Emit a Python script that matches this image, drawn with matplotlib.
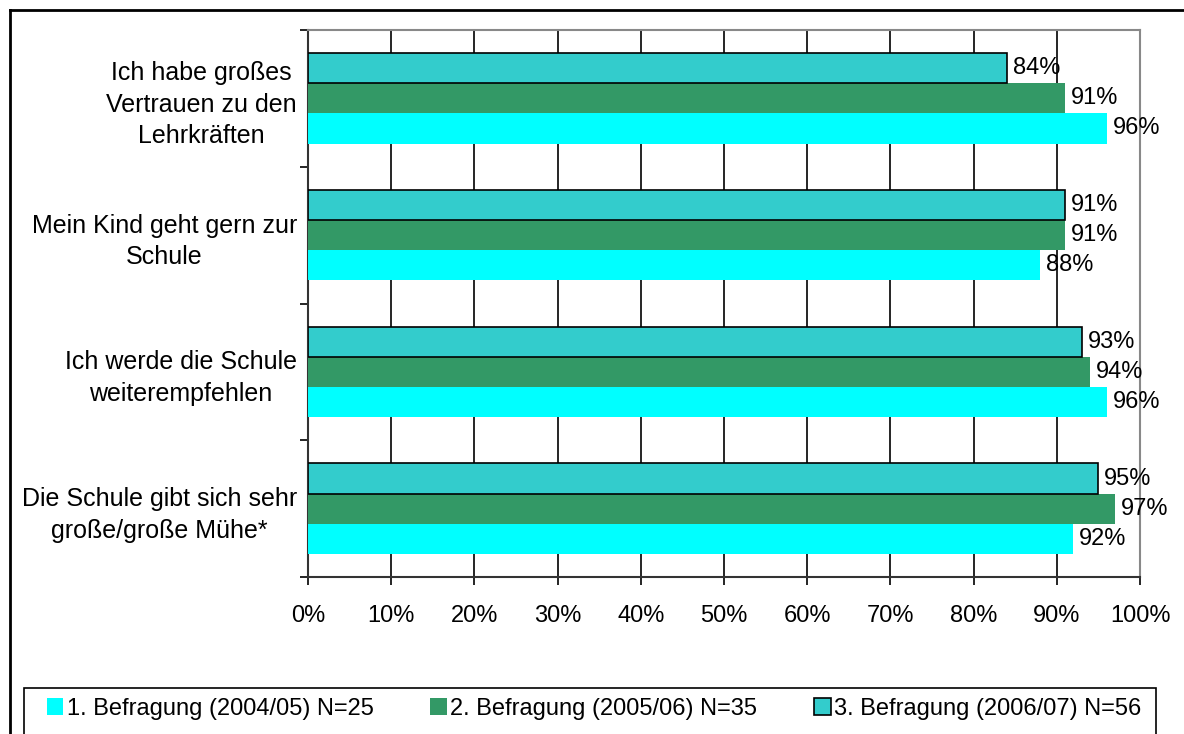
import matplotlib.pyplot as plt
import numpy as np
from matplotlib.lines import Line2D
from matplotlib.patches import Rectangle

plt.rcParams['font.family'] = ['Liberation Sans', 'DejaVu Sans']

# survey statements (top to bottom)
items = ['Ich habe großes\nVertrauen zu den\nLehrkräften',
         'Mein Kind geht gern zur\nSchule',
         'Ich werde die Schule\nweiterempfehlen',
         'Die Schule gibt sich sehr\ngroße/große Mühe*']

# share of agreement per survey round, in percent
wave1 = [96, 88, 96, 92]
wave2 = [91, 91, 94, 97]
wave3 = [84, 91, 93, 95]

names = ['1. Befragung (2004/05) N=25',
         '2. Befragung (2005/06) N=35',
         '3. Befragung (2006/07) N=56']
colors = ['#00FFFF', '#339966', '#33CCCC']

fs = 17

fig = plt.figure(figsize=(11.84, 7.34), dpi=100)
ax = fig.add_axes([308 / 1184, 1 - 577 / 734, 832 / 1184, 547 / 734])

y = np.arange(len(items))[::-1].astype(float)
h = 0.22
series = [wave1, wave2, wave3]
offsets = [-h, 0, h]
for vals, c, off, name in zip(series, colors, offsets, names):
    ec = 'black' if c == '#33CCCC' else 'none'
    bars = ax.barh(y + off, np.array(vals) / 100, height=h, color=c,
                   edgecolor=ec, linewidth=1.2, label=name, zorder=3)
    for b, v in zip(bars, vals):
        ax.text(b.get_width() + 0.007, b.get_y() + b.get_height() / 2,
                f'{v}%', va='center', ha='left', fontsize=fs, zorder=4)

ax.set_xlim(0, 1)
ax.set_ylim(-0.5, len(items) - 0.5)
ticks = np.arange(0, 1.01, 0.1)
ax.set_xticks(ticks)
ax.set_xticklabels([f'{int(round(t * 100))}%' for t in ticks], fontsize=fs)
ax.tick_params(axis='x', length=6, width=1.2, pad=14)
ax.xaxis.grid(True, color='black', linewidth=1.2, zorder=0)

# ticks at category boundaries, labels centred on groups
ax.set_yticks(np.arange(-0.5, len(items), 1.0))
ax.set_yticklabels([])
ax.tick_params(axis='y', length=6, width=1.2)
ax.set_yticks(y, minor=True)
ax.set_yticklabels(items, minor=True, fontsize=18, multialignment='center',
                   linespacing=1.4)
ax.tick_params(axis='y', which='minor', length=0, pad=8)

for s in ['left', 'bottom']:
    ax.spines[s].set_color('#333333')
    ax.spines[s].set_linewidth(1.5)
for s in ['top', 'right']:
    ax.spines[s].set_color('#888888')
    ax.spines[s].set_linewidth(1.5)

# outer frame and legend box
fig.add_artist(Line2D([10 / 1184, 1], [1 - 10 / 734, 1 - 10 / 734],
                      color='black', linewidth=2, transform=fig.transFigure))
fig.add_artist(Line2D([10 / 1184, 10 / 1184], [0, 1 - 10 / 734],
                      color='black', linewidth=2, transform=fig.transFigure))
fig.add_artist(Rectangle((24 / 1184, -0.05), (1156 - 24) / 1184, 0.05 + 46 / 734,
                         transform=fig.transFigure, fill=False,
                         edgecolor='black', linewidth=1.2))

handles, labels = ax.get_legend_handles_labels()
fig.legend(handles, labels, loc='center', ncol=3, frameon=False,
           bbox_to_anchor=(594 / 1184, 1 - 709 / 734), fontsize=fs,
           handlelength=0.7, handleheight=0.7, handletextpad=0.15,
           columnspacing=2.4)

fig.savefig('out.png', dpi=100)
